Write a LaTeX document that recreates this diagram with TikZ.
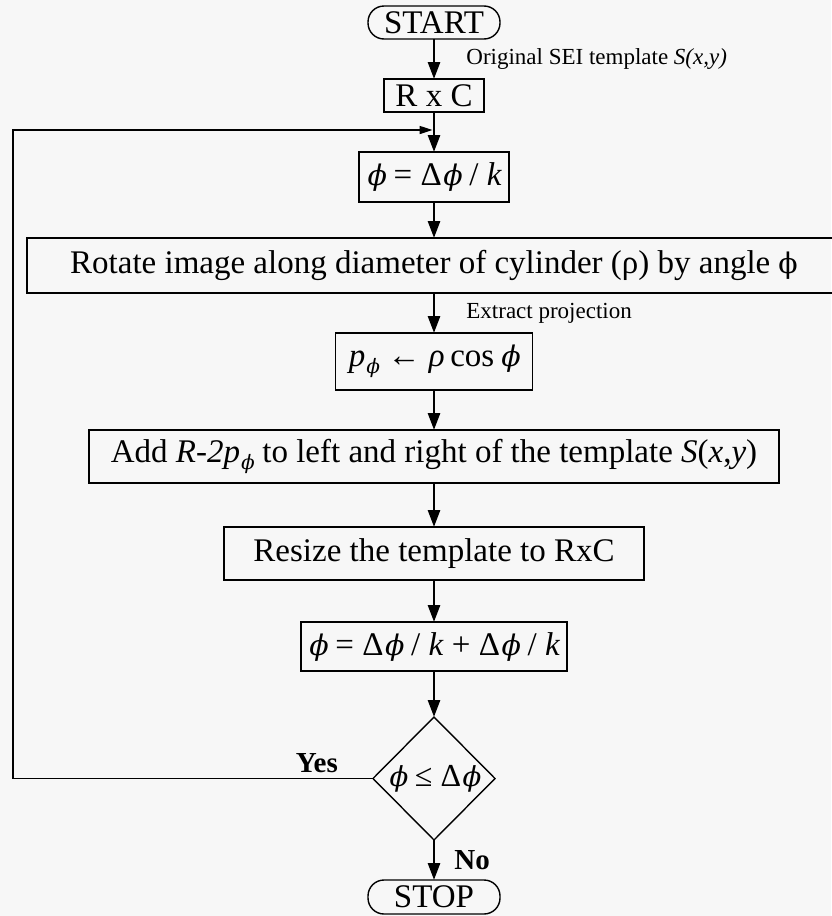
\documentclass[tikz,border=0pt]{standalone}
\usepackage{fontspec}
\setmainfont{Liberation Serif}
\newfontfamily\phifont[FakeSlant=0.2, Scale=0.86]{DejaVu Serif}
\newfontfamily\phiup[Scale=0.86]{DejaVu Serif}
\usetikzlibrary{positioning, calc, shapes.geometric, arrows.meta}
\newcommand{\vphi}{{\phifont ϕ}}
\newcommand{\uphi}{{\phiup ϕ}}
\tikzset{
  fc box/.style={draw, rectangle, line width=1.4, inner sep=2, outer sep=0, font=\fontsize{33}{38}\selectfont,},
  fc term/.style={fc box, rounded corners=16, minimum width=132, minimum height=33,},
  fc dec/.style={draw, diamond, aspect=1, line width=1.4, inner sep=-3, outer sep=0, minimum width=122, minimum height=123, font=\fontsize{32}{36}\selectfont,},
  fc flow/.style={black, line width=2.8, -{Triangle[length=17pt,width=12pt]},},
  fc loop/.style={black, line width=1.4, -{Triangle[length=13pt,width=8pt]}, shorten >=1.4,},
  lbl/.style={font=\fontsize{23}{27}\selectfont, inner sep=1,},
  lbl yn/.style={font=\fontsize{29}{33}\selectfont\bfseries, inner sep=1,}
}

\begin{document}
\begin{tikzpicture}[
  x=1pt, y=1pt,
  fc box/.append style = {inner xsep=4},
  ]
\path[use as bounding box, fill=black!3] (0,0) rectangle (831,-916);

\node[fc term] at (434,-22.5) (n0) {START};
\node[fc box, below=40pt of n0, minimum width=100, minimum height=33] (n1) {R x C};
\node[fc box, below=40pt of n1, minimum width=150, minimum height=50] (n2) {\vphi{} = Δ\vphi{} / \textit{k}};
\node[fc box, below=36pt of n2, minimum width=814, minimum height=55] (n3) {Rotate image along diameter of cylinder (ρ) by angle \uphi};
\node[fc box, below=40pt of n3, minimum width=197, minimum height=57] (n4) {\textit{p}\textsubscript{\vphi} ← \textit{ρ}\,cos\,\vphi};
\node[fc box, below=40pt of n4, minimum width=690, minimum height=53] (n5) {Add \textit{R-2p}\textsubscript{\vphi} to left and right of the template \textit{S}(\textit{x},\textit{y})};
\node[fc box, below=44pt of n5, minimum width=420, minimum height=53] (n6) {Resize the template to RxC};
\node[fc box, below=42pt of n6, minimum width=266, minimum height=49] (n7) {\vphi{} = Δ\vphi{} / \textit{k} + Δ\vphi{} / \textit{k}};
\node[fc dec, below=46pt of n7] (n8) {\vphi{} ≤ Δ\vphi};
\node[fc term, below=40pt of n8, minimum height=34] (n9) {STOP};

\coordinate (h0) at ($(n1.south) + (0,-18)$);
\coordinate (c0) at ($(h0) + (-421,0)$);

\draw[fc flow] (n0) -- node[lbl, right=30pt] (n0l) {Original SEI template \textit{S(x,y)}} (n1);
\draw[fc flow] (n1) -- (n2);
\draw[fc flow] (n2) -- (n3);
\draw[fc flow] (n3) -- node[lbl, right=30pt] (n3l) {Extract projection} (n4);
\draw[fc flow] (n4) -- (n5);
\draw[fc flow] (n5) -- (n6);
\draw[fc flow] (n6) -- (n7);
\draw[fc flow] (n7) -- (n8);
\draw[fc flow] (n8) -- node[lbl yn, right=18pt] (n8n) {No} (n9);
\draw[fc loop] (n8.west) -| (c0) -- (h0);
\node[lbl yn, above left=5pt and 34pt of n8.west] (n8y) {Yes};

\end{tikzpicture}
\end{document}
